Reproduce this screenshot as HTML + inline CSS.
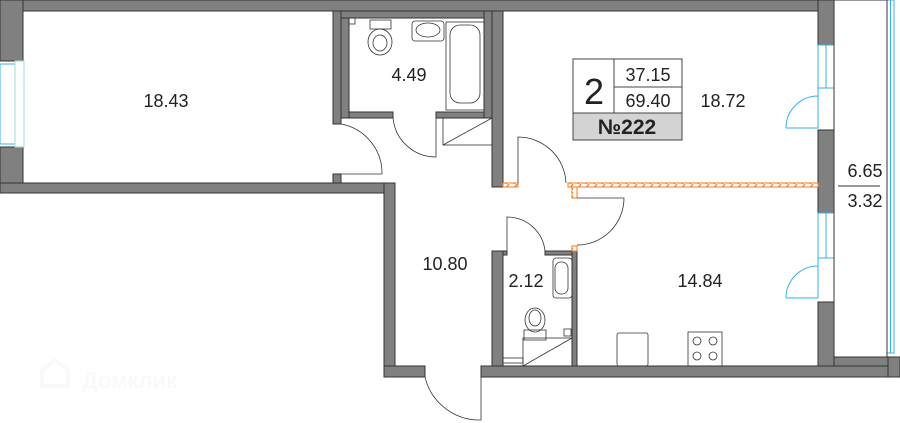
<!DOCTYPE html>
<html><head><meta charset="utf-8"><style>
html,body{margin:0;padding:0;background:#fff;width:900px;height:423px;overflow:hidden}
svg{display:block}
text{font-family:"Liberation Sans",sans-serif;fill:#222}
</style></head><body>
<svg width="900" height="423" viewBox="0 0 900 423" xmlns="http://www.w3.org/2000/svg">
<g fill="#808080" stroke="#333" stroke-width="1">
<rect x="0" y="0" width="834" height="11"/>
<rect x="0" y="0" width="23" height="61"/>
<rect x="0" y="147" width="23" height="46"/>
<rect x="0" y="183" width="395" height="10"/>
<rect x="333" y="11" width="8" height="113"/>
<rect x="333" y="174" width="8" height="9"/>
<rect x="341" y="11" width="8" height="107"/>
<rect x="341" y="11" width="153" height="7"/>
<rect x="349" y="112" width="44" height="6"/>
<rect x="436" y="112" width="56" height="6"/>
<rect x="484" y="11" width="8" height="107"/>
<rect x="492" y="11" width="11" height="176"/>
<rect x="384" y="183" width="11" height="194"/>
<rect x="384" y="366" width="41" height="11"/>
<rect x="481" y="366" width="419" height="11"/>
<rect x="492" y="251" width="11" height="115"/>
<rect x="503" y="251" width="4" height="4"/>
<rect x="545" y="251" width="32" height="4"/>
<rect x="572" y="251" width="5" height="115"/>
<rect x="818" y="0" width="16" height="45"/>
<rect x="818" y="130" width="16" height="83"/>
<rect x="818" y="302" width="16" height="64"/>
<rect x="834" y="357" width="60" height="9"/>
<rect x="888" y="357" width="12" height="20"/>
</g>
<g fill="none" stroke="#3ab0e8" stroke-width="1">
<rect x="0" y="64" width="15" height="80"/>
<rect x="15" y="61" width="9" height="86" stroke="#9dd"/>
<rect x="818" y="45" width="16" height="43"/>
<line x1="826" y1="45" x2="826" y2="88"/>
<rect x="818" y="213" width="16" height="45"/>
<line x1="826" y1="213" x2="826" y2="258"/>
<path d="M786 128 A32 32 0 0 1 818 96 M786 128 H818 V88"/>
<path d="M786 298 A32 32 0 0 1 818 266 M786 298 H818 V258"/>
<rect x="887" y="0" width="7" height="353"/>
<line x1="890.5" y1="0" x2="890.5" y2="353"/>
</g>
<rect x="834" y="0" width="53" height="357" fill="none" stroke="#333" stroke-width="1"/>
<line x1="838" y1="186" x2="880" y2="186" stroke="#333"/>
<defs><pattern id="h" width="8" height="4" patternUnits="userSpaceOnUse"><rect width="8" height="4" fill="#fff"/><line x1="2" y1="4" x2="5" y2="0" stroke="#f07a20" stroke-width="1.3"/></pattern></defs>
<g fill="url(#h)" stroke="#f07a20" stroke-width="1">
<rect x="503" y="183" width="15" height="4"/>
<rect x="568" y="183" width="250" height="4"/>
<rect x="572" y="187" width="5" height="11"/>
<rect x="572" y="246" width="5" height="5"/>
</g>
<g fill="none" stroke="#333" stroke-width="0.8">
<path d="M341 124 A50 50 0 0 1 382 174 M341 174 H382"/>
<path d="M393 118 A43 43 0 0 0 436 157 V118"/>
<path d="M518 183 V137 A48 48 0 0 1 566 183"/>
<path d="M577 198 H624 A47 47 0 0 1 577 245"/>
<path d="M507 251 V217 A38 38 0 0 1 545 251"/>
<path d="M425 377 A56 56 0 0 0 481 420 V377"/>
<rect x="443" y="118" width="49" height="27"/>
<line x1="443" y1="145" x2="492" y2="118"/>
<rect x="523" y="338" width="49" height="28"/>
<line x1="523" y1="366" x2="572" y2="338"/>
<rect x="503" y="358" width="20" height="5"/>
<rect x="349" y="18" width="6" height="6"/>
<rect x="370" y="20" width="21" height="9"/>
<ellipse cx="380" cy="42" rx="12" ry="13"/>
<ellipse cx="380" cy="43" rx="7" ry="8"/>
<rect x="412" y="21" width="32" height="20" rx="3"/>
<ellipse cx="428" cy="30" rx="12" ry="7"/>
<rect x="446" y="22" width="38" height="88"/>
<rect x="450" y="25" width="30" height="78" rx="10"/>
<rect x="553" y="258" width="19" height="40" rx="3"/>
<rect x="555" y="262" width="13" height="32" rx="6"/>
<ellipse cx="535" cy="320" rx="10" ry="12"/>
<ellipse cx="535" cy="318" rx="6" ry="8"/>
<rect x="524" y="330" width="22" height="10"/>
<rect x="564" y="329" width="7" height="7"/>
<rect x="617" y="333" width="31" height="33" rx="2"/>
<rect x="688" y="332" width="34" height="34"/>
<circle cx="697" cy="341" r="4"/><circle cx="713" cy="341" r="4"/>
<circle cx="697" cy="356" r="4"/><circle cx="713" cy="356" r="4"/>
</g>
<g font-size="18">
<text x="166" y="107" text-anchor="middle">18.43</text>
<text x="409" y="81" text-anchor="middle">4.49</text>
<text x="723" y="107" text-anchor="middle">18.72</text>
<text x="445" y="270" text-anchor="middle">10.80</text>
<text x="526" y="287" text-anchor="middle">2.12</text>
<text x="700" y="287" text-anchor="middle">14.84</text>
<text x="865" y="177" text-anchor="middle">6.65</text>
<text x="865" y="207" text-anchor="middle">3.32</text>
</g>
<rect x="573" y="59" width="109" height="81" fill="#fff" stroke="#444"/>
<rect x="573" y="113" width="109" height="27" fill="#d3d3d3" stroke="#444"/>
<line x1="614" y1="59" x2="614" y2="113" stroke="#444"/>
<line x1="614" y1="87" x2="682" y2="87" stroke="#444"/>
<text x="594" y="104" font-size="36" text-anchor="middle">2</text>
<text x="648" y="81" font-size="18" text-anchor="middle">37.15</text>
<text x="648" y="107" font-size="18" text-anchor="middle">69.40</text>
<text x="627" y="134" font-size="21" font-weight="bold" text-anchor="middle">№222</text>
<g opacity="0.15">
<text x="82" y="388" font-size="22" font-weight="bold" style="fill:#ddd">Домклик</text>
<path d="M42 386 V370 L55 360 L68 370 V386 Z" fill="none" stroke="#ddd" stroke-width="4"/>
</g>
</svg>
</body></html>
